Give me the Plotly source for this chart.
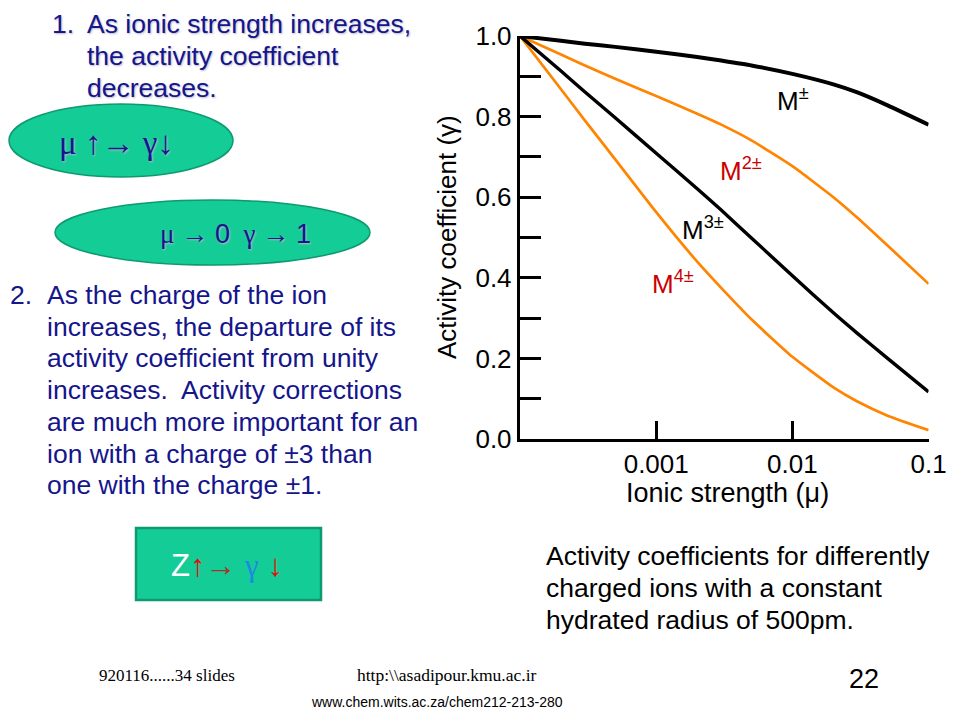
import plotly.graph_objects as go

# ---------------- data ----------------
ionic_strength = [1e-4, 2e-4, 3e-4, 5e-4, 1e-3, 2e-3, 3e-3, 5e-3, 1e-2, 2e-2, 3e-2, 5e-2, 1e-1]
gamma_m1 = [1.0, 0.988, 0.981, 0.973, 0.961, 0.948, 0.939, 0.927, 0.906, 0.880, 0.860, 0.828, 0.780]
gamma_m2 = [1.0, 0.954, 0.927, 0.894, 0.851, 0.807, 0.780, 0.741, 0.677, 0.600, 0.549, 0.480, 0.385]
gamma_m3 = [1.0, 0.913, 0.861, 0.797, 0.709, 0.621, 0.568, 0.499, 0.405, 0.313, 0.262, 0.200, 0.117]
gamma_m4 = [1.0, 0.868, 0.790, 0.694, 0.563, 0.440, 0.375, 0.297, 0.204, 0.128, 0.093, 0.058, 0.022]

x_tick_vals = [0.001, 0.01, 0.1]
x_tick_text = ["0.001", "0.01", "0.1"]
y_tick_vals = [0.0, 0.2, 0.4, 0.6, 0.8, 1.0]
y_tick_text = ["0.0", "0.2", "0.4", "0.6", "0.8", "1.0"]
y_minor_step = 0.1

series_names = ["M±", "M2±", "M3±", "M4±"]

W, H = 960, 720
OFF = 8  # the page body margin shifts the figure by 8px
def X(px):
    return (px - OFF) / W
def Y(py):
    return 1 - (py - OFF) / H

ORANGE = "#FF8400"
RED = "#CC0000"
NAVY = "#15158C"
TEAL = "#14CC96"
TEAL_LINE = "#0E9A70"
SANS = "Liberation Sans, Arial, Helvetica, sans-serif"
SERIF = "Liberation Serif, Times New Roman, serif"
NARROW = "Liberation Sans Narrow, Arial Narrow, Liberation Sans, sans-serif"

fig = go.Figure()
fig.add_trace(go.Scatter(x=ionic_strength, y=gamma_m2, mode="lines", name=series_names[1],
                         line=dict(color=ORANGE, width=2.7, shape="spline", smoothing=0.5)))
fig.add_trace(go.Scatter(x=ionic_strength, y=gamma_m4, mode="lines", name=series_names[3],
                         line=dict(color=ORANGE, width=2.7, shape="spline", smoothing=0.5)))
fig.add_trace(go.Scatter(x=ionic_strength, y=gamma_m3, mode="lines", name=series_names[2],
                         line=dict(color="black", width=3.4, shape="spline", smoothing=0.5)))
fig.add_trace(go.Scatter(x=ionic_strength, y=gamma_m1, mode="lines", name=series_names[0],
                         line=dict(color="black", width=4, shape="spline", smoothing=0.5)))

axis_common = dict(showline=True, linewidth=3.4, linecolor="black", ticks="inside",
                   tickwidth=3.4, tickcolor="black", showgrid=False, zeroline=False,
                   automargin=False,
                   tickfont=dict(family=SANS, size=26, color="black"))
fig.update_xaxes(type="log", range=[-4, -1], domain=[X(520), X(928.6)],
                 tickvals=x_tick_vals, ticktext=x_tick_text, ticklen=18, **axis_common)
fig.update_yaxes(range=[0, 1.0], domain=[Y(439), Y(36)],
                 tickvals=y_tick_vals, ticktext=y_tick_text, ticklen=21,
                 minor=dict(dtick=y_minor_step, tick0=0, ticks="inside", ticklen=21,
                            tickwidth=3.4, tickcolor="black", showgrid=False),
                 **axis_common)

ann = []
def text(x, y, s, size, color="black", family=SANS, anchor="left", angle=0, shadow=None):
    f = dict(family=family, size=size, color=color)
    if shadow:
        f["shadow"] = shadow
    ann.append(dict(x=X(x), y=Y(y), xref="paper", yref="paper", text=s, showarrow=False,
                    xanchor=anchor, yanchor="middle", textangle=angle, font=f))

# axis titles
text(447, 237, "Activity coefficient (γ)", 26, anchor="center", angle=-90)
text(727, 493, "Ionic strength (μ)", 27, anchor="center")

# curve labels
text(775, 99, "M<sup>±</sup>", 26)
text(718, 169, "M<sup>2±</sup>", 26, color=RED)
text(680, 228, "M<sup>3±</sup>", 26)
text(650, 282, "M<sup>4±</sup>", 26, color=RED)

SH = "1px 1px 2px #B8B8C8"
# item 1
text(50, 24, "1.", 26.5, NAVY, shadow=SH)
for i, line in enumerate(["As ionic strength increases,", "the activity coefficient", "decreases."]):
    text(85, 24 + 32 * i, line, 26.5, NAVY, shadow=SH)

# item 2
text(8, 295, "2.", 26.5, NAVY)
item2 = ["As the charge of the ion", "increases, the departure of its",
         "activity coefficient from unity", "increases.  Activity corrections",
         "are much more important for an", "ion with a charge of ±3 than",
         "one with the charge ±1."]
for i, line in enumerate(item2):
    text(45, 295 + 31.7 * i, line, 26.5, NAVY)

# caption
for i, line in enumerate(["Activity coefficients for differently", "charged ions with a constant",
                          "hydrated radius of 500pm."]):
    text(544, 556 + 32 * i, line, 26.5, "black")

# shapes: ellipses and box
shapes = [
    dict(type="circle", xref="paper", yref="paper", x0=X(9), x1=X(233), y0=Y(177), y1=Y(104),
         fillcolor=TEAL, line=dict(color=TEAL_LINE, width=1.5), layer="below"),
    dict(type="circle", xref="paper", yref="paper", x0=X(55), x1=X(370), y0=Y(265), y1=Y(200),
         fillcolor=TEAL, line=dict(color=TEAL_LINE, width=1.5), layer="below"),
    dict(type="rect", xref="paper", yref="paper", x0=X(136), x1=X(321), y0=Y(600), y1=Y(528),
         fillcolor=TEAL, line=dict(color=TEAL_LINE, width=2.5), layer="below"),
]

text(116, 143, "μ ↑→ γ↓", 33, NAVY, family=SERIF, anchor="center", shadow=SH)
text(235, 234, "μ → <span style='font-family:Liberation Sans'>0</span>  γ → <span style='font-family:Liberation Sans'>1</span>",
     27, NAVY, family=SERIF, anchor="center", shadow=SH)
text(227, 565, "<span style='color:white'>Z</span><span style='color:#E01010'>↑</span>"
     "<span style='color:#A8302A'>→</span> <span style='color:#1E88E5;font-family:Liberation Serif'>γ</span>"
     " <span style='color:#E01010'>↓</span>", 31, "white", anchor="center")

# footer
text(97, 675, "920116......34 slides", 17, "black", family=SERIF)
text(447, 675, "http:\\\\asadipour.kmu.ac.ir", 17.5, "black", family=SERIF, anchor="center")
text(864, 679, "22", 27, "black", family=NARROW, anchor="center")
text(437, 702, "www.chem.wits.ac.za/chem212-213-280", 14, "black", family=NARROW, anchor="center")

fig.update_layout(width=W, height=H, margin=dict(l=0, r=0, t=0, b=0, autoexpand=False),
                  paper_bgcolor="white", plot_bgcolor="white", showlegend=False,
                  annotations=ann, shapes=shapes)

fig.write_html("out.html")
